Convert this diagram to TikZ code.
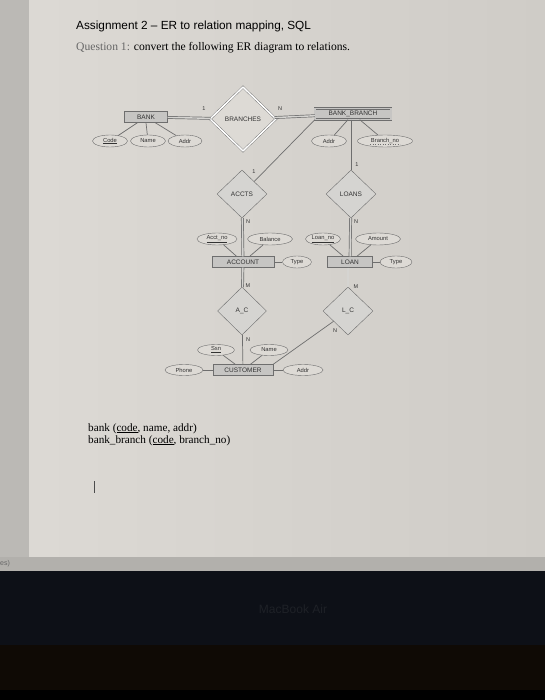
\documentclass[tikz,border=0pt]{standalone}
\usepackage{fontspec}
\setmainfont{Liberation Serif}
\newfontfamily\arialfont{Liberation Sans}
\usetikzlibrary{shapes.geometric,positioning}
\definecolor{pagebg}{HTML}{DDDAD5}
\definecolor{pageedge}{HTML}{CFCCC7}
\definecolor{sidebar}{HTML}{BBB9B5}
\definecolor{linegray}{HTML}{6E6E6E}
\definecolor{entfill}{HTML}{C6C5C3}
\definecolor{relfill}{HTML}{D5D4D1}
\definecolor{darktxt}{HTML}{333333}
\definecolor{bezel}{HTML}{0D1017}
\tikzset{ent/.style={draw=linegray, fill=entfill, rectangle, inner sep=0pt,
  minimum height=11pt, text=darktxt, font=\arialfont\fontsize{6.5}{7}\selectfont}}
\tikzset{attr/.style={draw=linegray, fill=pagebg, ellipse, inner sep=0pt,
  minimum height=12pt, text=darktxt, font=\arialfont\fontsize{5.8}{6.5}\selectfont}}
\tikzset{rel/.style={draw=linegray, fill=relfill, diamond, inner sep=0pt,
  minimum width=50pt, minimum height=48pt, text=darktxt, font=\arialfont\fontsize{6.5}{7}\selectfont}}
\tikzset{card/.style={inner sep=0pt, text=darktxt, font=\arialfont\fontsize{5.5}{6}\selectfont}}
\tikzset{link/.style={draw=linegray, line width=0.7pt}}
\tikzset{total/.style={draw=linegray, line width=0.7pt, double=relfill, double distance=1.4pt}}
\tikzset{doc/.style={anchor=base west, inner sep=0pt, text=black}}

\begin{document}
\begin{tikzpicture}[x=1pt,y=-1pt]
\useasboundingbox (0,0) rectangle (545,700);
% screen background
\shade[left color=pagebg, right color=pageedge] (0,0) rectangle (545,557);
\fill[sidebar] (0,0) rectangle (29,557);
\fill[sidebar!95!black] (0,557) rectangle (545,571);
\fill[bezel] (0,571) rectangle (545,645);
\fill[black!92!brown] (0,645) rectangle (545,690);
\fill[black] (0,690) rectangle (545,700);
\node[anchor=west, inner sep=0pt, text=black!60, font=\arialfont\fontsize{7}{8}\selectfont]
  (status) at (0,564) {es)};
\node[inner sep=0pt, text=bezel!93!white, font=\arialfont\fontsize{12}{14}\selectfont]
  (brand) at (293,609) {MacBook Air};

% heading
\node[doc, font=\arialfont\fontsize{11.8}{13}\selectfont] (title) at (76,30)
{Assignment 2 \textendash\ ER to relation mapping, SQL};
\node[doc, font=\fontsize{11.6}{13}\selectfont] (question) at (76,51)
{\textcolor{black!60}{Question 1:} convert the following ER diagram to relations.};

% entities and relationships
\node[ent, minimum width=43pt](bank) at (146,117) {BANK};
\node[rel, double, double distance=1.5pt, fill=pagebg, minimum width=66pt, minimum height=64pt]
  (branches) at (243,119) {BRANCHES};
\node[ent, double, double=entfill, double distance=1.5pt, minimum width=76pt, minimum height=11pt]
  (bankbranch) at (353,114) {BANK\_BRANCH};

\node[rel](accts) at (242,194) {ACCTS};
\node[rel](loans) at (351,194) {LOANS};

\node[ent, minimum width=62pt](account) at (243,262) {ACCOUNT};
\node[ent, minimum width=45pt](loan) at (350,262) {LOAN};

\node[rel, minimum width=49pt](ac) at (242,311) {A\_C};
\node[rel](lc) at (348,311) {L\_C};

\node[ent, minimum width=60pt](customer) at (243,370) {CUSTOMER};

% attributes
\node[attr, minimum width=35pt](code) at (110,141) {\underline{Code}};
\node[attr, minimum width=35pt](bname) at (148,141) {Name};
\node[attr, minimum width=34pt](baddr) at (185,141) {Addr};
\node[attr, minimum width=35pt](bbaddr) at (329,141) {Addr};
\node[attr, minimum width=55pt](brno) at (385,141) {Branch\_no};
\draw[linegray, dotted, line width=0.5pt] ([xshift=-15pt,yshift=-3.5pt]brno.center)
  -- ([xshift=15pt,yshift=-3.5pt]brno.center);

\node[attr, minimum width=40pt](acctno) at (217,239) {\underline{Acct\_no}};
\node[attr, minimum width=45pt](balance) at (270,239) {Balance};
\node[attr, minimum width=29pt](atype) at (297,262) {Type};

\node[attr, minimum width=35pt](loanno) at (323,239) {\underline{Loan\_no}};
\node[attr, minimum width=45pt](amount) at (378,239) {Amount};
\node[attr, minimum width=32pt](ltype) at (396,262) {Type};

\node[attr, minimum width=37pt, minimum height=11pt](ssn) at (216,350) {\underline{Ssn}};
\node[attr, minimum width=38pt, minimum height=11pt](cname) at (269,350) {Name};
\node[attr, minimum width=38pt, minimum height=11pt](phone) at (184,370) {Phone};
\node[attr, minimum width=40pt, minimum height=11pt](caddr) at (303,370) {Addr};

% connectors
\draw[total] (bank) -- (branches);
\draw[total] (branches) -- (bankbranch);
\draw[link] (bank) -- (code);
\draw[link] (bank.south) -- (bname);
\draw[link] (bank) -- (baddr);
\draw[link] (bankbranch) -- (bbaddr);
\draw[link] (bankbranch) -- (brno);
\draw[link] (bankbranch.south west) -- (accts);
\draw[link] (bankbranch.south -| loans.north) -- (loans.north);
\draw[total] (accts) -- (account);
\draw[total] (loans) -- (loan);
\draw[link] (account) -- (acctno);
\draw[link] (account) -- (balance);
\draw[link] (account) -- (atype);
\draw[link] (loan) -- (loanno);
\draw[link] (loan) -- (amount);
\draw[link] (loan) -- (ltype);
\draw[total] (account) -- (ac);
\draw[total] (loan.south -| lc.north) -- (lc.north);
\draw[link] (ac) -- (customer);
\draw[link] (lc) -- (customer.north east);
\draw[link] (customer) -- (ssn);
\draw[link] (customer) -- (cname);
\draw[link] (customer) -- (phone);
\draw[link] (customer) -- (caddr);

% cardinalities
\node[card](c1) at (204,109) {1};
\node[card](c2) at (280,109) {N};
\node[card](c3) at (254,172) {1};
\node[card](c4) at (357,165) {1};
\node[card](c5) at (248,222) {N};
\node[card](c6) at (356,222) {N};
\node[card](c7) at (248,286) {M};
\node[card](c8) at (356,287) {M};
\node[card](c9) at (248,340) {N};
\node[card](c10) at (335,331) {N};

% relations typed so far
\node[doc, font=\fontsize{11.2}{13}\selectfont](rel1) at (88,431)
{bank (\underline{code}, name, addr)};
\node[doc, font=\fontsize{11.2}{13}\selectfont](rel2) at (88,443)
{bank\_branch (\underline{code}, branch\_no)};
\coordinate (cursortop) at (94,481);
\coordinate (cursorbot) at (94,493);
\draw[black!70, line width=0.6pt] (cursortop) -- (cursorbot);
\end{tikzpicture}
\end{document}
